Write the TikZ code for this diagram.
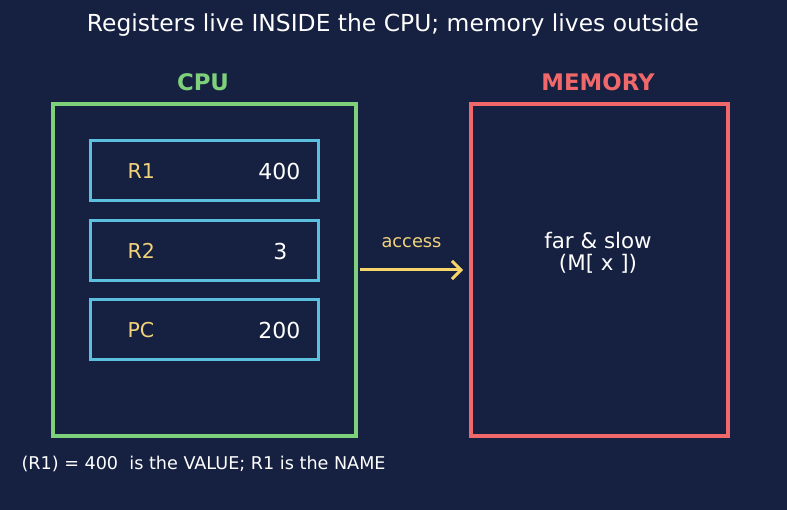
\documentclass[tikz,border=0pt]{standalone}
\usepackage{fontspec}
\setmainfont{DejaVu Sans}
\usetikzlibrary{arrows.meta,positioning}

\definecolor{bgnavy}{HTML}{162040}
\definecolor{cpugreen}{HTML}{7ED17A}
\definecolor{memred}{HTML}{F0686A}
\definecolor{regcyan}{HTML}{5BC0DE}
\definecolor{labyellow}{HTML}{F2D27A}
\definecolor{arrowyellow}{HTML}{F7D56B}

\begin{document}
\begin{tikzpicture}[
    x=1pt, y=-1pt,
    >={Straight Barb[length=9pt,width=18pt]},
    outer/.style={draw, line width=4pt, inner sep=0pt},
    reg/.style={draw=regcyan, line width=3pt, minimum width=228pt, minimum height=60pt, inner sep=0pt},
    rname/.style={text=labyellow, font=\fontsize{20.5}{24}\selectfont, anchor=west},
    rval/.style={text=white, font=\fontsize{22}{26}\selectfont, anchor=east},
    heading/.style={font=\bfseries\fontsize{22.8}{26}\selectfont},
    line/.style={->, line width=3pt, arrowyellow}
]

% background + frame
\fill[bgnavy] (0,0) rectangle (787,510);
\useasboundingbox (0,0) rectangle (787,510);

\node[text=white, font=\fontsize{23.4}{27}\selectfont] (title) at (393,25) {Registers live INSIDE the CPU; memory lives outside};

% CPU side
\node[outer, draw=cpugreen, minimum width=303pt, minimum height=332pt] (cpu) at (204.5,270) {};
\node[heading, text=cpugreen] (cpulab) at (203,82) {CPU};

\node[reg] (r1) at (204,171) {};
\node[reg] (r2) at (204,251) {};
\node[reg] (pc) at (204,330) {};
\node[rname] at (124,171) {R1};
\node[rval] at (304,171) {400};
\node[rname] at (124,251) {R2};
\node[rval] at (291,251) {3};
\node[rname] at (124,330) {PC};
\node[rval] at (304,330) {200};

% memory side
\node[outer, draw=memred, minimum width=257pt, minimum height=332pt] (mem) at (599.5,270) {};
\node[align=center, text=white, font=\fontsize{21.4}{22}\selectfont] (memtxt) at (598,253) {far \& slow\\(M[ x ])};
\node[heading, text=memred] (memlab) at (598,82) {MEMORY};

% access arrow
\draw[line] ([xshift=2pt]cpu.east) -- ([xshift=-6pt]mem.west) node[midway, above=17pt, text=labyellow, font=\fontsize{17.8}{20}\selectfont] {access};

\node[text=white, font=\fontsize{17.6}{20}\selectfont, anchor=west] (note) at (18,464) {(R1) = 400\ \ is the VALUE; R1 is the NAME};

\end{tikzpicture}
\end{document}
